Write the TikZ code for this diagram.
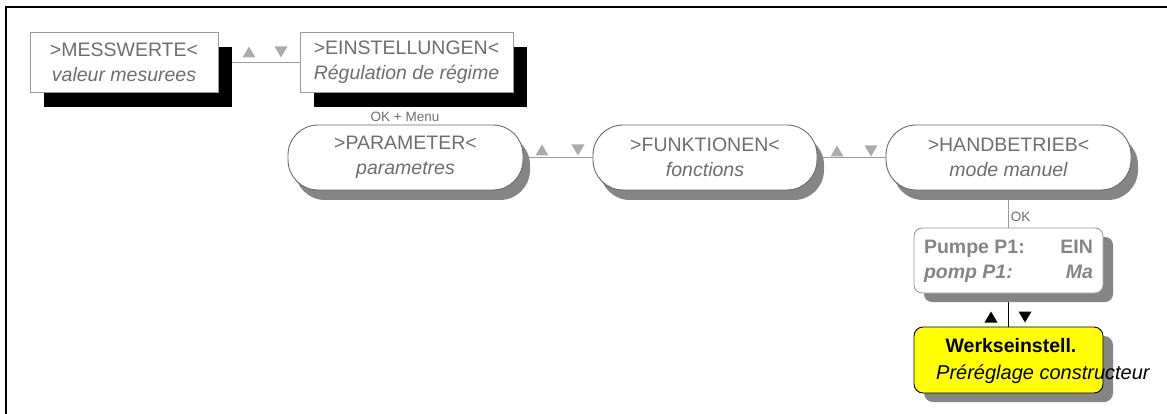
\documentclass[tikz,border=0pt]{standalone}
\usepackage{fontspec}
\setmainfont{Liberation Sans}
\usetikzlibrary{shadows,backgrounds}

\definecolor{txtgray}{HTML}{6E6E6E}
\definecolor{valgray}{HTML}{858585}
\definecolor{linegray}{HTML}{9A9A9A}
\definecolor{edgegray}{HTML}{6A6A6A}
\definecolor{shadegray}{HTML}{858585}
\definecolor{trigray}{HTML}{ABABAB}
\definecolor{boxyellow}{HTML}{FFFF00}

\tikzset{
  menubox/.style={draw=linegray, line width=0.9pt, fill=white, text=txtgray,
    align=center, inner sep=0pt, font=\fontsize{19.5}{25}\selectfont,
    drop shadow={shadow xshift=14pt, shadow yshift=-15pt, fill=black, opacity=1}},
  roundbox/.style={draw=edgegray, line width=0.9pt, fill=white, text=txtgray,
    rounded corners=30pt, align=center, inner sep=0pt,
    font=\fontsize{19.5}{25}\selectfont,
    drop shadow={shadow xshift=7pt, shadow yshift=-10pt, fill=shadegray, opacity=1}},
  valbox/.style={draw=linegray, line width=0.9pt, fill=white, text=valgray,
    rounded corners=8pt, inner sep=0pt, minimum width=189pt, minimum height=65pt,
    font=\fontsize{19.5}{25}\selectfont\bfseries,
    drop shadow={shadow xshift=10pt, shadow yshift=-9pt, fill=shadegray, opacity=1}},
  resetbox/.style={draw=black, line width=0.9pt, fill=boxyellow,
    rounded corners=9pt, inner sep=0pt, minimum width=189pt, minimum height=66pt,
    drop shadow={shadow xshift=10pt, shadow yshift=-9pt, fill=shadegray, opacity=1}},
  link/.style={draw=linegray, line width=0.9pt},
  keylink/.style={draw=black, line width=0.9pt},
  smalllabel/.style={text=txtgray, inner sep=1pt, font=\fontsize{13.5}{16}\selectfont},
  resettext/.style={inner sep=0pt, text=black, font=\fontsize{19.5}{25}\selectfont},
}

% small navigation arrows: centre x, centre y, colour
\newcommand\navup[3]{\fill[#3] (#1-6.5,#2+5.5) -- (#1+6.5,#2+5.5) -- (#1,#2-5.5) -- cycle;}
\newcommand\navdown[3]{\fill[#3] (#1-6.5,#2-5.5) -- (#1+6.5,#2-5.5) -- (#1,#2+5.5) -- cycle;}

\begin{document}
\begin{tikzpicture}[x=1pt, y=-1pt]
  \useasboundingbox (0,0) rectangle (1167,414);

  % outer frame (top and left edges)
  \draw[line width=2.5pt] (6,414) -- (6,7) -- (1167,7);

  % top menu level
  \node[menubox, minimum width=188pt, minimum height=60pt] (mess) at (124,62)
    {>MESSWERTE<\\\itshape valeur mesurees};
  \node[menubox, minimum width=213pt, minimum height=60pt] (einst) at (406.5,62)
    {>EINSTELLUNGEN<\\\itshape Régulation de régime};

  \node[smalllabel] (okmenu) at (405,117) {OK + Menu};

  % second menu level
  \node[roundbox, minimum width=235pt, minimum height=65pt] (param) at (405.5,157.5)
    {>PARAMETER<\\\itshape parametres};
  \node[roundbox, minimum width=224pt, minimum height=65pt] (funk) at (705,157.5)
    {>FUNKTIONEN<\\\itshape fonctions};
  \node[roundbox, minimum width=245pt, minimum height=65pt] (hand) at (1008.5,157.5)
    {>HANDBETRIEB<\\\itshape mode manuel};

  % manual mode value display
  \node[valbox] (pumpe) at (1008.5,260.5)
    {\begin{tabular*}{169pt}{@{}l@{\extracolsep{\fill}}r@{}}
      Pumpe P1: & EIN\\
      \itshape pomp P1: & \itshape Ma
    \end{tabular*}};

  % factory setting entry
  \node[resetbox] (werk) at (1008.5,360) {};
  \node[resettext, font=\fontsize{19.5}{25}\selectfont\bfseries] (werktitle) at (1011,346)
    {Werkseinstell.};
  \node[resettext, anchor=west, font=\fontsize{20}{25}\selectfont\itshape] (werksub) at (936,374)
    {Préréglage constructeur};

  % connectors beneath the boxes and their shadows
  \begin{scope}[on background layer]
    \draw[link] (mess.east) -- (einst.west);
    \draw[link] (param.east) -- (funk.west);
    \draw[link] (funk.east) -- (hand.west);
    \draw[link] (hand.south) -- (pumpe.north)
      node[smalllabel, pos=0.7, anchor=west, xshift=1pt] (oklabel) {OK};
    \draw[keylink] (pumpe.south) -- (werk.north);
  \end{scope}

  % navigation arrows
  \navup{249}{52}{trigray}
  \navdown{281}{52}{trigray}
  \navup{542}{150}{trigray}
  \navdown{578}{150}{trigray}
  \navup{837}{151}{trigray}
  \navdown{871}{151}{trigray}
  \navup{991}{317}{black}
  \navdown{1025}{317}{black}
\end{tikzpicture}
\end{document}
